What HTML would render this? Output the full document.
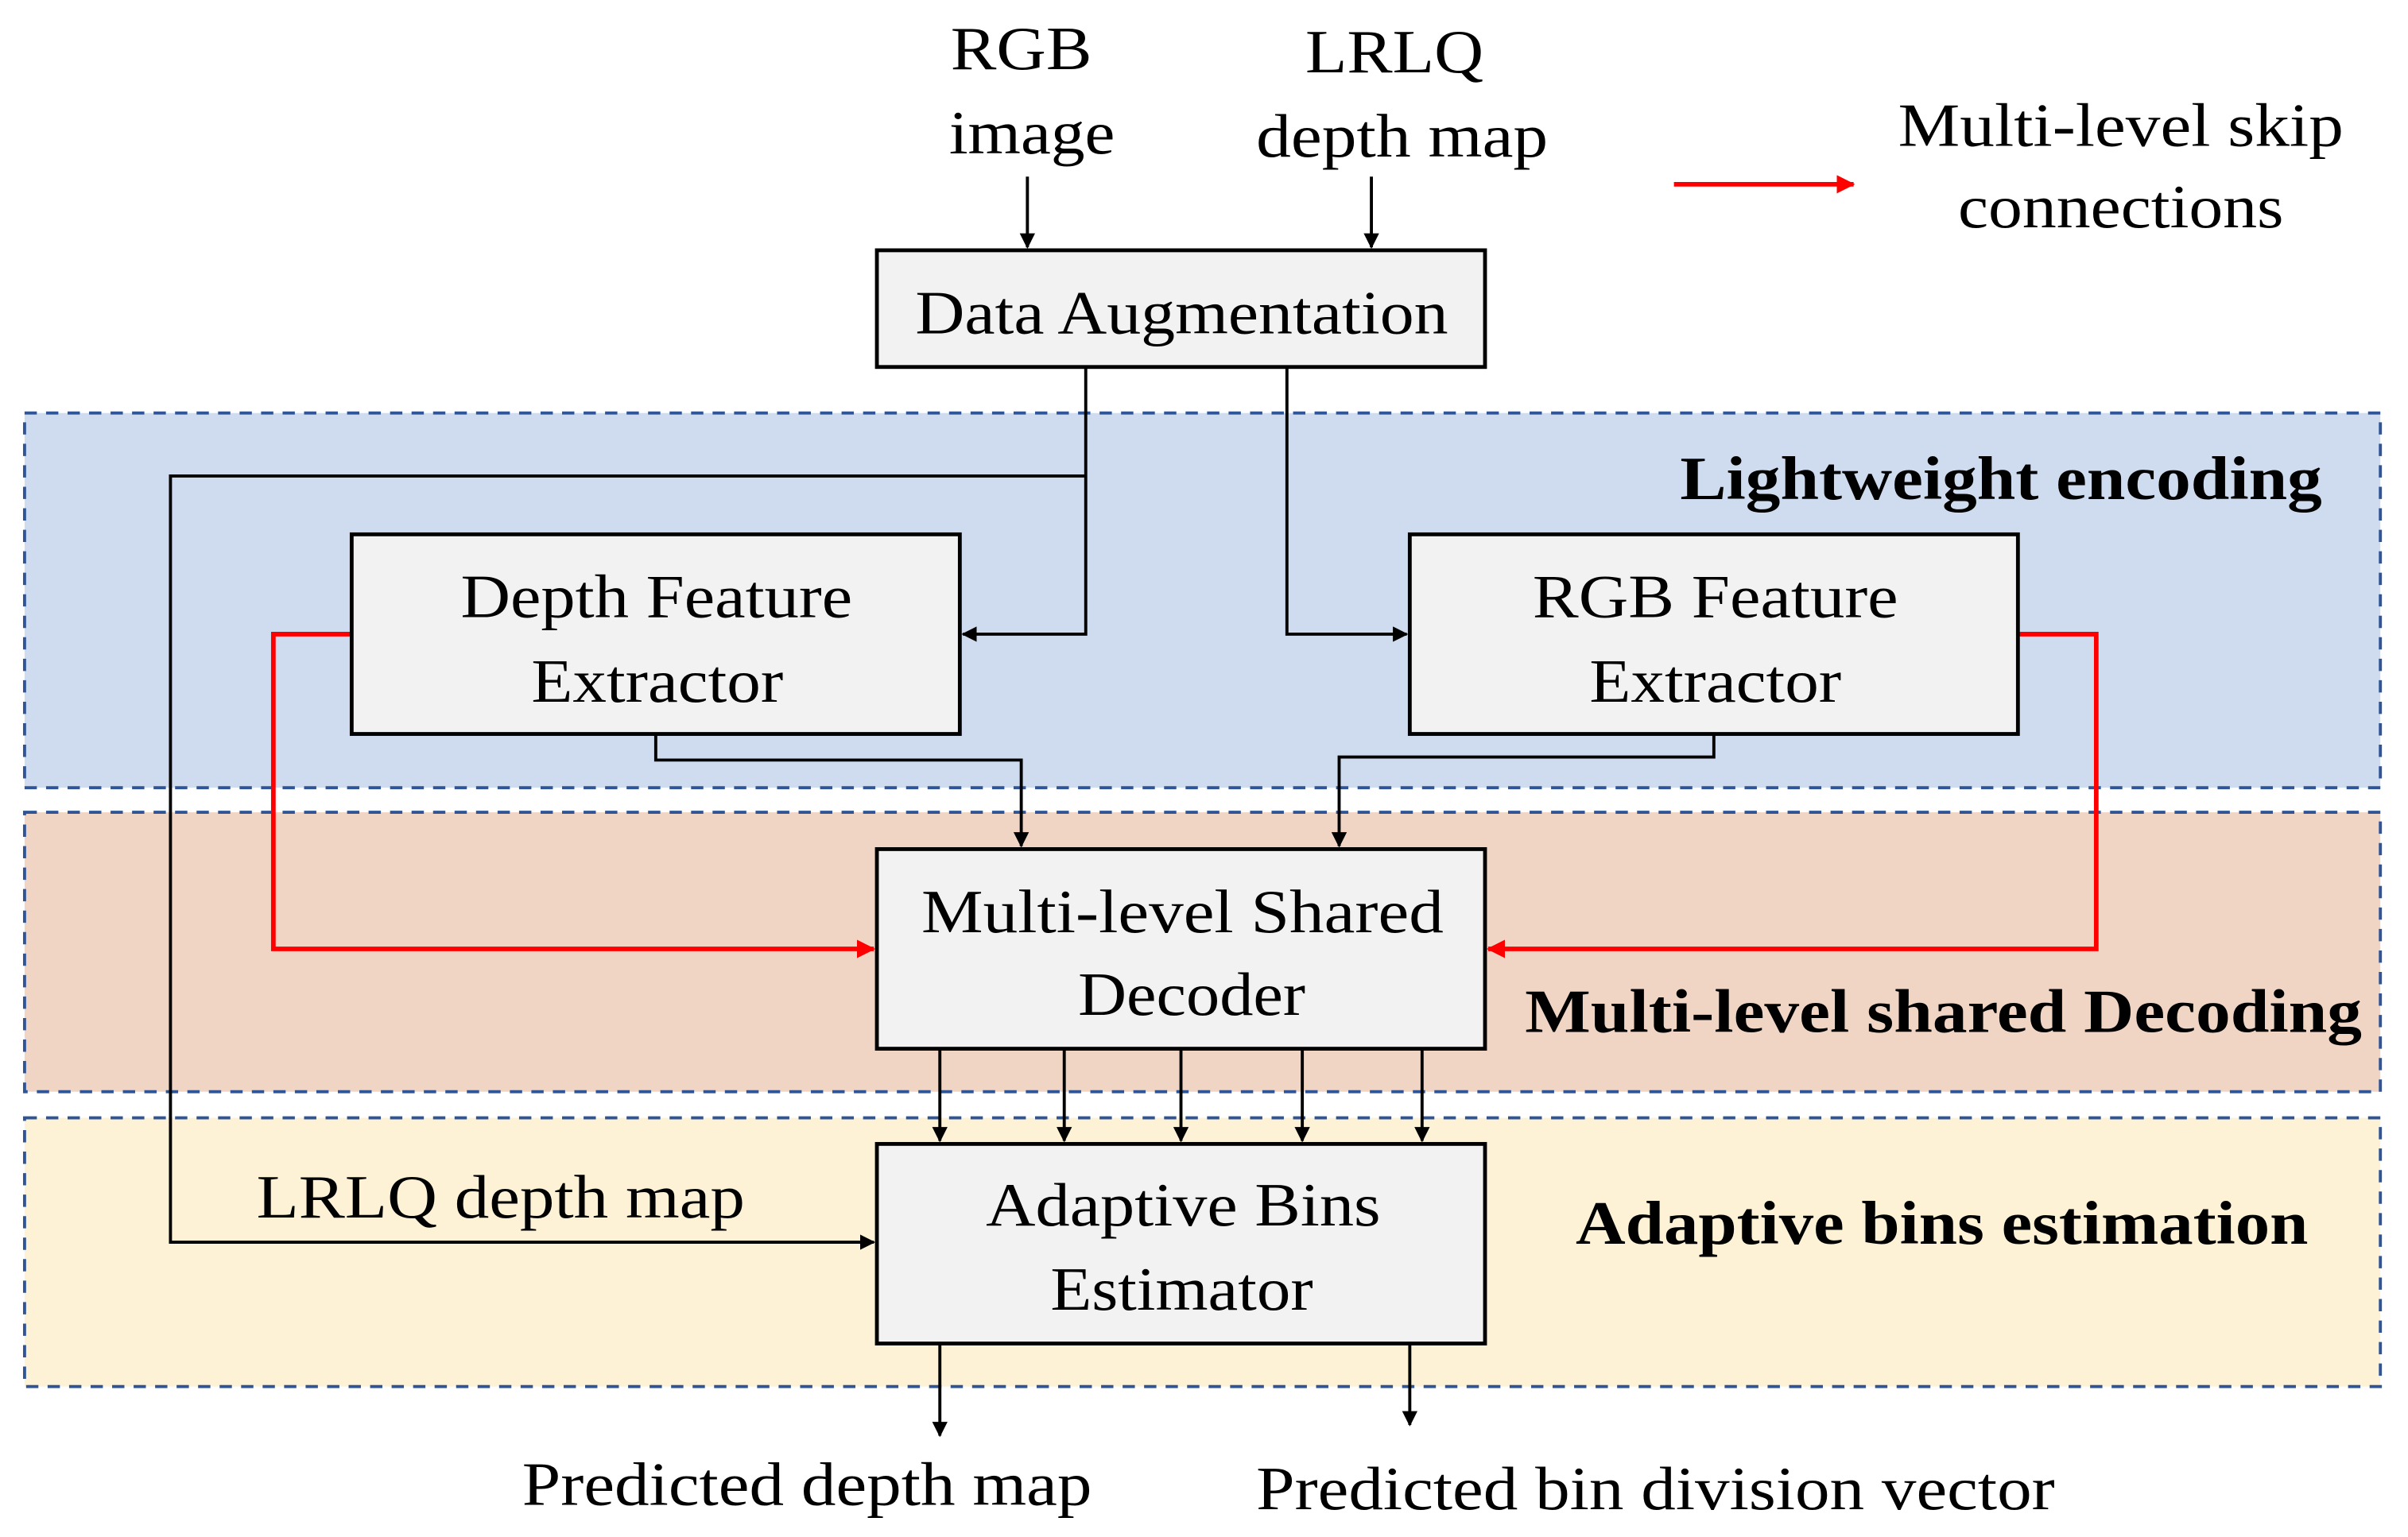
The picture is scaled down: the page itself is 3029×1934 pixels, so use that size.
<!DOCTYPE html>
<html><head><meta charset="utf-8"><style>html,body{margin:0;padding:0;background:#fff}svg{display:block}</style></head>
<body>
<svg width="3029" height="1934" viewBox="0 0 1568 1001" preserveAspectRatio="none" xmlns="http://www.w3.org/2000/svg" font-family="'Liberation Serif', serif">
<defs>
<marker id="a" markerWidth="10" markerHeight="10" refX="9" refY="5" orient="auto" markerUnits="userSpaceOnUse"><path d="M0,0 L10,5 L0,10 z" fill="#000"/></marker>
<marker id="r" markerWidth="12" markerHeight="12" refX="11" refY="6" orient="auto" markerUnits="userSpaceOnUse"><path d="M0,0 L12,6 L0,12 z" fill="#f00"/></marker>
</defs>
<rect x="16" y="269" width="1534" height="244" fill="#cfdcef" stroke="#2f5597" stroke-width="2" stroke-dasharray="8,6"/>
<rect x="16" y="529" width="1534" height="182" fill="#f0d5c4" stroke="#2f5597" stroke-width="2" stroke-dasharray="8,6"/>
<rect x="16" y="728" width="1534" height="175" fill="#fdf2d6" stroke="#2f5597" stroke-width="2" stroke-dasharray="8,6"/>
<g stroke="#000" stroke-width="2" fill="none">
<line x1="669" y1="115" x2="669" y2="161" marker-end="url(#a)"/>
<line x1="893" y1="115" x2="893" y2="161" marker-end="url(#a)"/>
<polyline points="707,239 707,413 627,413" marker-end="url(#a)"/>
<polyline points="707,310 111,310 111,809 569,809" marker-end="url(#a)"/>
<polyline points="838,239 838,413 916,413" marker-end="url(#a)"/>
<polyline points="427,478 427,495 665,495 665,551" marker-end="url(#a)"/>
<polyline points="1116,478 1116,493 872,493 872,551" marker-end="url(#a)"/>
<line x1="612" y1="683" x2="612" y2="743" marker-end="url(#a)"/>
<line x1="693" y1="683" x2="693" y2="743" marker-end="url(#a)"/>
<line x1="769" y1="683" x2="769" y2="743" marker-end="url(#a)"/>
<line x1="848" y1="683" x2="848" y2="743" marker-end="url(#a)"/>
<line x1="926" y1="683" x2="926" y2="743" marker-end="url(#a)"/>
<line x1="612" y1="875" x2="612" y2="935" marker-end="url(#a)"/>
<line x1="918" y1="870" x2="918" y2="928" marker-end="url(#a)"/>
</g>
<g stroke="#f00" stroke-width="3" fill="none">
<polyline points="229,413 178,413 178,618 569,618" marker-end="url(#r)"/>
<polyline points="1314,413 1365,413 1365,618 969,618" marker-end="url(#r)"/>
<line x1="1090" y1="120" x2="1207" y2="120" marker-end="url(#r)"/>
</g>
<g fill="#f2f2f2" stroke="#000" stroke-width="2.5">
<rect x="571" y="163" width="396" height="76"/>
<rect x="229" y="348" width="396" height="130"/>
<rect x="918" y="348" width="396" height="130"/>
<rect x="571" y="553" width="396" height="130"/>
<rect x="571" y="745" width="396" height="130"/>
</g>
<g font-size="40" fill="#000">
<text x="619" y="45" textLength="92" lengthAdjust="spacingAndGlyphs">RGB</text>
<text x="618" y="100" textLength="108" lengthAdjust="spacingAndGlyphs">image</text>
<text x="850" y="47" textLength="116" lengthAdjust="spacingAndGlyphs">LRLQ</text>
<text x="818" y="102" textLength="190" lengthAdjust="spacingAndGlyphs">depth map</text>
<text x="1236" y="95" textLength="290" lengthAdjust="spacingAndGlyphs">Multi-level skip</text>
<text x="1275" y="148" textLength="212" lengthAdjust="spacingAndGlyphs">connections</text>
<text x="596" y="217" textLength="347" lengthAdjust="spacingAndGlyphs">Data Augmentation</text>
<text x="300" y="402" textLength="255" lengthAdjust="spacingAndGlyphs">Depth Feature</text>
<text x="346" y="457" textLength="164" lengthAdjust="spacingAndGlyphs">Extractor</text>
<text x="998" y="402" textLength="238" lengthAdjust="spacingAndGlyphs">RGB Feature</text>
<text x="1035" y="457" textLength="164" lengthAdjust="spacingAndGlyphs">Extractor</text>
<text x="600" y="607" textLength="340" lengthAdjust="spacingAndGlyphs">Multi-level Shared</text>
<text x="702" y="661" textLength="148" lengthAdjust="spacingAndGlyphs">Decoder</text>
<text x="642" y="798" textLength="257" lengthAdjust="spacingAndGlyphs">Adaptive Bins</text>
<text x="684" y="853" textLength="171" lengthAdjust="spacingAndGlyphs">Estimator</text>
<text x="167" y="793" textLength="318" lengthAdjust="spacingAndGlyphs">LRLQ depth map</text>
<text x="340" y="980" textLength="371" lengthAdjust="spacingAndGlyphs">Predicted depth map</text>
<text x="818" y="983" textLength="520" lengthAdjust="spacingAndGlyphs">Predicted bin division vector</text>
</g>
<g font-size="40" font-weight="bold" fill="#000">
<text x="1094" y="325" textLength="418" lengthAdjust="spacingAndGlyphs">Lightweight encoding</text>
<text x="993" y="672" textLength="545" lengthAdjust="spacingAndGlyphs">Multi-level shared Decoding</text>
<text x="1026" y="810" textLength="477" lengthAdjust="spacingAndGlyphs">Adaptive bins estimation</text>
</g>
</svg>
</body></html>
